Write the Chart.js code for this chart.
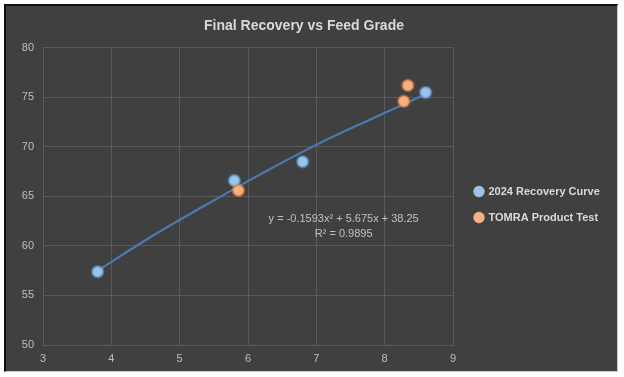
<!DOCTYPE html>
<html>
<head>
<meta charset="utf-8">
<script src="https://cdn.jsdelivr.net/npm/chart.js@4"></script>
<style>
  html, body { margin: 0; padding: 0; background: #ffffff; width: 624px; height: 377px; overflow: hidden; }
  #frame { position: absolute; left: 4px; top: 4px; width: 614px; height: 368px; box-sizing: border-box;
           border-top: 2px solid #111; border-left: 2px solid #111; border-right: 1px solid #c8c8c8; border-bottom: 1px solid #c8c8c8;
           background: #404040; }
  #wrap { position: absolute; left: 0; top: 0; width: 611px; height: 365px; }
</style>
</head>
<body>
<div id="frame"><div id="wrap"><canvas id="c"></canvas></div></div>
<script>
// ---- data ----
const seriesNames = ['2024 Recovery Curve', 'TOMRA Product Test'];
const recoveryX = [3.8, 5.8, 6.8, 8.6];
const recoveryY = [57.4, 66.6, 68.5, 75.5];
const tomraX = [5.86, 8.28, 8.34];
const tomraY = [65.6, 74.6, 76.2];
const trendX = [3.8, 4.6, 5.4, 6.2, 7.0, 7.8, 8.6];
const trendY = [57.5, 61.0, 64.2, 67.3, 70.2, 72.8, 75.3];
const xTicks = [3, 4, 5, 6, 7, 8, 9];
const yTicks = [50, 55, 60, 65, 70, 75, 80];
const titleText = 'Final Recovery vs Feed Grade';
const equationLines = ['y = -0.1593x\u00B2 + 5.675x + 38.25', 'R\u00B2 = 0.9895'];

const pts = (xs, ys) => xs.map((x, i) => ({ x: x, y: ys[i] }));
const FONT = '"Liberation Sans", Arial, sans-serif';

const equationPlugin = {
  id: 'equation',
  afterLayout(chart) {
    // nudge the legend as in the reference
    if (chart.legend) {
      chart.legend.left += 7; chart.legend.right += 7;
      chart.legend.top += 32; chart.legend.bottom += 0;
    }
  },
  afterDatasetsDraw(chart) {
    const ctx = chart.ctx, xs = chart.scales.x, ys = chart.scales.y;
    ctx.save();
    ctx.fillStyle = '#c0c0c0';
    ctx.font = '11px ' + FONT;
    ctx.textAlign = 'center';
    ctx.textBaseline = 'middle';
    ctx.fillText(equationLines[0], xs.getPixelForValue(7.40), ys.getPixelForValue(62.7));
    ctx.fillText(equationLines[1], xs.getPixelForValue(7.40), ys.getPixelForValue(61.2));
    ctx.restore();
  }
};

new Chart(document.getElementById('c'), {
  type: 'scatter',
  data: {
    datasets: [
      { label: seriesNames[0], data: pts(recoveryX, recoveryY), order: 1,
        backgroundColor: '#9dc3e6', borderColor: 'rgba(91,155,213,0.55)', borderWidth: 2.5, pointRadius: 5.5 },
      { label: seriesNames[1], data: pts(tomraX, tomraY), order: 0,
        backgroundColor: '#f4b183', borderColor: 'rgba(237,125,49,0.5)', borderWidth: 2.5, pointRadius: 5.5 },
      { label: 'trend', type: 'line', data: pts(trendX, trendY), order: 2,
        borderColor: '#4a7ab0', borderWidth: 2.2, pointRadius: 0, tension: 0.4, fill: false, showLine: true }
    ]
  },
  options: {
    responsive: true, maintainAspectRatio: false, animation: false,
    layout: { padding: { left: 0, right: 15, top: 0, bottom: 0 } },
    plugins: {
      tooltip: { enabled: false },
      title: { display: true, text: titleText, color: '#d9d9d9',
               font: { family: FONT, size: 14, weight: 'bold' }, padding: { top: 12, bottom: 13 } },
      legend: { position: 'right',
        labels: { color: '#d9d9d9', font: { family: FONT, size: 11, weight: 'bold' },
                  usePointStyle: true, pointStyle: 'circle', boxWidth: 8, boxHeight: 8, padding: 15,
                  generateLabels: (chart) => chart.data.datasets.slice(0, 2).map((d, i) => ({
                    text: d.label, fillStyle: d.backgroundColor, strokeStyle: d.backgroundColor, lineWidth: 0,
                    pointStyle: 'circle', fontColor: '#d9d9d9', datasetIndex: i, hidden: false })) } }
    },
    scales: {
      x: { type: 'linear', min: 3, max: 9,
           afterBuildTicks: (s) => { s.ticks = xTicks.map(v => ({ value: v })); },
           afterFit: (s) => { s.height = 26; },
           grid: { color: '#5a5a5a', drawTicks: false }, border: { color: '#5a5a5a' },
           ticks: { color: '#bfbfbf', font: { family: FONT, size: 11 }, padding: 7 } },
      y: { type: 'linear', min: 50, max: 80,
           afterBuildTicks: (s) => { s.ticks = yTicks.map(v => ({ value: v })); },
           afterFit: (s) => { s.width = 37; },
           grid: { color: '#5a5a5a', drawTicks: false }, border: { color: '#5a5a5a' },
           ticks: { color: '#bfbfbf', font: { family: FONT, size: 11 }, padding: 9 } }
    }
  },
  plugins: [equationPlugin]
});
</script>
</body>
</html>
